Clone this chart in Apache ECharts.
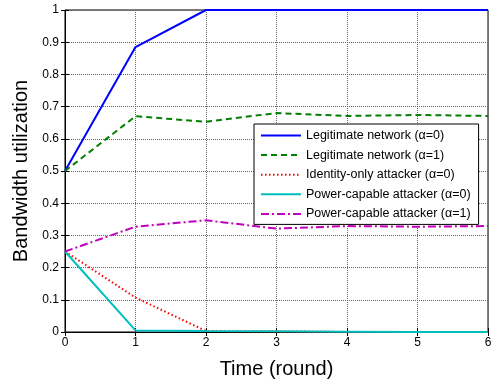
<!DOCTYPE html>
<html><head><meta charset="utf-8">
<script src="https://cdn.jsdelivr.net/npm/echarts@6/dist/echarts.min.js"></script>
<style>html,body{margin:0;padding:0;background:#fff}#c{width:498px;height:384px}</style>
</head><body><div id="c"></div>
<script>
const rounds = [0, 1, 2, 3, 4, 5, 6];
const legit0 = [0.5, 0.885, 1, 1, 1, 1, 1];
const legit1 = [0.5, 0.670, 0.653, 0.680, 0.671, 0.674, 0.671];
const identity0 = [0.25, 0.107, 0.003, 0.002, 0, 0, 0];
const power0 = [0.25, 0.005, 0.003, 0.002, 0.001, 0, 0];
const power1 = [0.25, 0.327, 0.347, 0.321, 0.329, 0.327, 0.329];
const names = ['Legitimate network (α=0)', 'Legitimate network (α=1)', 'Identity-only attacker (α=0)', 'Power-capable attacker (α=0)', 'Power-capable attacker (α=1)'];

const pair = arr => rounds.map((x, i) => [x, arr[i]]);
const font = 'Liberation Sans, Arial, sans-serif';
function s(name, arr, color, type) {
  return { name, type: 'line', data: pair(arr), symbol: 'none', lineStyle: { color, width: 2, type }, itemStyle: { color }, animation: false };
}
const tickOnly = { axisLabel: { show: false }, splitLine: { show: false }, axisLine: { show: false },
  axisTick: { inside: true, length: 4, lineStyle: { color: '#000' } } };
const chart = echarts.init(document.getElementById('c'), null, { renderer: 'canvas' });
chart.setOption({
  animation: false,
  grid: { left: 65, right: 10, top: 10, bottom: 47, show: true, borderColor: '#000', borderWidth: 1, backgroundColor: 'transparent' },
  xAxis: [{
    type: 'value', min: 0, max: 6, interval: 1,
    name: 'Time (round)', nameLocation: 'middle', nameGap: 27,
    nameTextStyle: { fontFamily: font, fontSize: 20, color: '#000' },
    axisLine: { lineStyle: { color: '#000', width: 1 } },
    axisTick: { inside: true, length: 4, lineStyle: { color: '#000' } },
    axisLabel: { fontFamily: font, fontSize: 12, color: '#000', margin: 5 },
    splitLine: { show: true, lineStyle: { color: '#666', type: [1, 1], width: 1 } }
  }, Object.assign({ type: 'value', min: 0, max: 6, interval: 1, position: 'top' }, tickOnly)],
  yAxis: [{
    type: 'value', min: 0, max: 1, interval: 0.1,
    name: 'Bandwidth utilization', nameLocation: 'middle', nameGap: 30,
    nameTextStyle: { fontFamily: font, fontSize: 20, color: '#000' },
    axisLine: { lineStyle: { color: '#000', width: 1 } },
    axisTick: { inside: true, length: 4, lineStyle: { color: '#000' } },
    axisLabel: { fontFamily: font, fontSize: 12, color: '#000', margin: 6, formatter: v => String(Math.round(v * 10) / 10) },
    splitLine: { show: true, lineStyle: { color: '#666', type: [1, 1], width: 1 } }
  }, Object.assign({ type: 'value', min: 0, max: 1, interval: 0.1, position: 'right' }, tickOnly)],
  legend: {
    data: names, orient: 'vertical', left: 254, top: 124,
    padding: [5, 8, 4, 6],
    backgroundColor: '#fff', borderColor: '#000', borderWidth: 1, borderRadius: 0,
    itemWidth: 40, itemHeight: 12, itemGap: 6.6,
    itemStyle: { opacity: 0 },
    textStyle: { fontFamily: font, fontSize: 12.5, color: '#000' }
  },
  series: [
    s(names[0], legit0, '#0000ff', 'solid'),
    s(names[1], legit1, '#008000', [6, 4]),
    s(names[2], identity0, '#ff0000', [1.5, 2.5]),
    s(names[3], power0, '#00bfbf', 'solid'),
    s(names[4], power1, '#bf00bf', [8, 3, 2, 3])
  ]
});
</script></body></html>
